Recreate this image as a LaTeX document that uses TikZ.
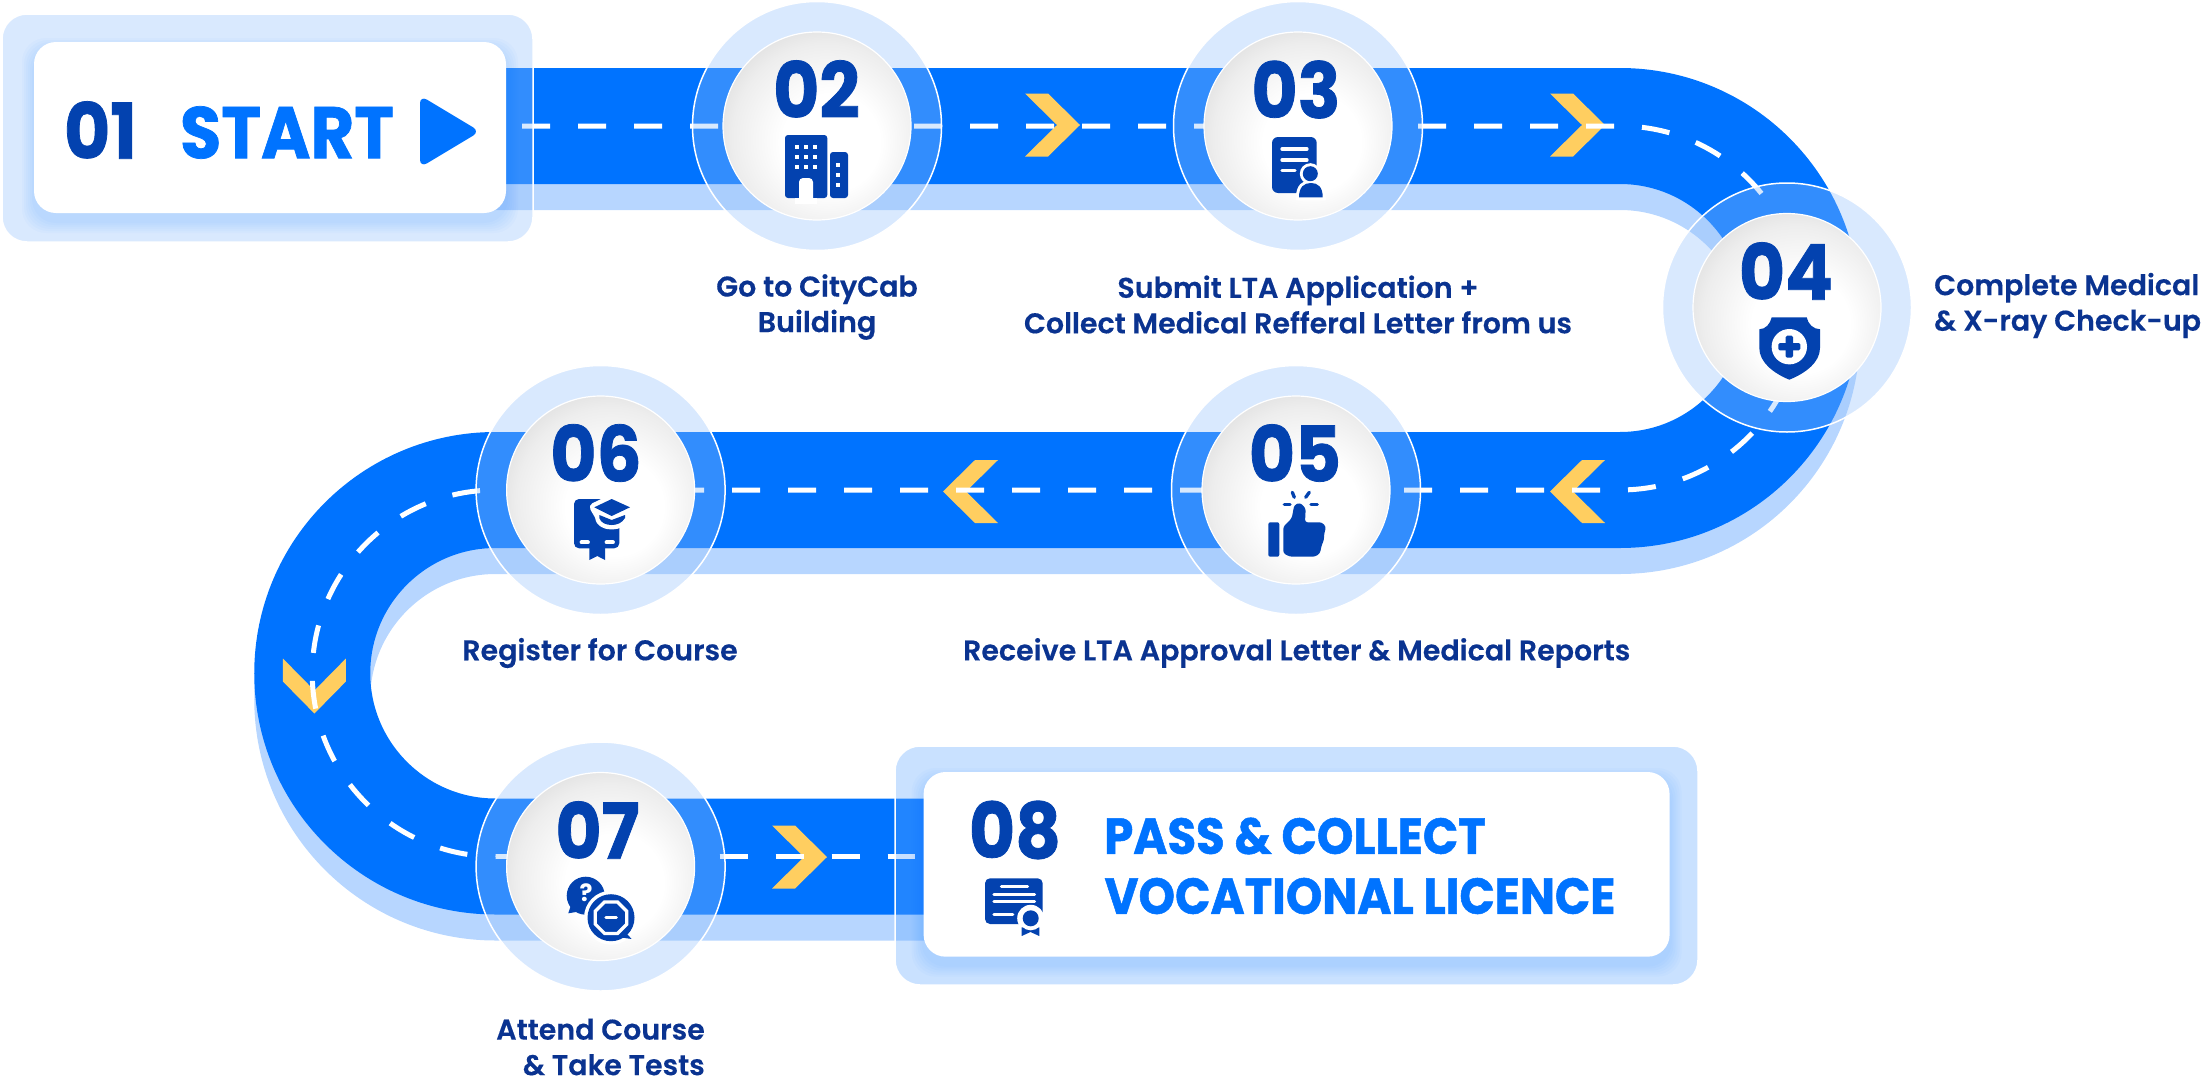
\documentclass[tikz,border=0pt]{standalone}
\usepackage{fontspec}
\setmainfont{Poppins}
\newfontfamily\fontLabel[FakeBold=0.3]{Poppins SemiBold}
\newfontfamily\fontNumber[FakeStretch=0.92, FakeBold=1]{Poppins Bold}
\usetikzlibrary{positioning, shapes.geometric}
\definecolor{colorRoad}{HTML}{0073FF}
\definecolor{colorRoadShadow}{HTML}{B7D6FF}
\definecolor{colorRing}{HTML}{92C0FC}
\definecolor{colorEndRing}{HTML}{62A8FF}
\definecolor{colorNumber}{HTML}{0342AF}
\definecolor{colorLabel}{HTML}{0A3390}
\definecolor{colorChevron}{HTML}{FFCE60}
\pgfdeclareradialshading{ballshade}{\pgfpoint{5bp}{-6bp}}{color(0bp)=(white); color(13bp)=(white); color(25bp)=(black!7); color(33bp)=(black!15); color(50bp)=(black!15)}
\tikzset{
  roadline/.style={line width=116pt},
  dashline/.style={white, line width=5pt, dash pattern=on 28pt off 28pt},
  ring/.style={circle, minimum size=249pt, inner sep=0pt, draw=white, line width=1.5pt, fill=colorRing, fill opacity=.35},
  ball/.style={circle, minimum size=188pt, inner sep=0pt, shade, shading=ballshade, draw=white, line width=1.2pt},
  whitebox/.style={rectangle, rounded corners=22pt, fill=white, inner sep=0pt},
  number/.style={inner sep=0pt, text=colorNumber, font=\fontNumber\fontsize{77}{77}\selectfont},
  steplabel/.style={inner sep=0pt, text=colorLabel, font=\fontLabel\fontsize{28.5}{35.5}\selectfont},
  boxtext/.style={inner sep=0pt, text=colorRoad, font=\fontNumber\fontsize{50.5}{50.5}\selectfont},
  icon/.style={fill=colorNumber},
  iconline/.style={draw=white, line width=3.3pt, line cap=round},
  sparkline/.style={draw=colorNumber, line width=3.3pt, line cap=round},
  chevron/.style={fill=colorChevron},
}
\begin{document}
\begin{tikzpicture}[x=1pt, y=-1pt]
\useasboundingbox (0,0) rectangle (2201,1076);
% road
\coordinate (roadStart) at (400,126);
\coordinate (roadTurnA) at (1620,126);
\coordinate (roadTurnB) at (495.5,490);
\coordinate (roadEnd) at (1000,856.5);
\draw[roadline, colorRoadShadow] ([yshift=-26pt]roadStart) -- ([yshift=-26pt]roadTurnA) arc[start angle=90, end angle=-90, radius=182pt] -- ([yshift=-26pt]roadTurnB) arc[start angle=90, end angle=270, radius=183.25pt] -- ([yshift=-26pt]roadEnd);
\draw[roadline, colorRoad] (roadStart) -- (roadTurnA) arc[start angle=90, end angle=-90, radius=182pt] -- (roadTurnB) arc[start angle=90, end angle=270, radius=183.25pt] -- (roadEnd);
% chevrons
\foreach \tipx/\tipy/\tipa in {1080/125/0, 1605/125/0, 1550/491.5/180, 943/491.5/180, 314.4/713.5/-90, 827/857/0}
  \fill[chevron, shift={(\tipx,\tipy)}, rotate=\tipa] (-55,-31.5) -- (-32,-31.5) -- (0,0) -- (-32,31.5) -- (-55,31.5) -- (-23,0) -- cycle;
% dashes
\coordinate (dashA) at (522,126);
\coordinate (dashB) at (1600,490);
\coordinate (dashC) at (495.5,856.5);
\coordinate (dashD) at (915,856.5);
\coordinate (dashE) at (1628,489.8);
\draw[dashline] (dashA) -- (roadTurnA) arc[start angle=90, end angle=0, radius=182pt];
\draw[dashline] (dashE) arc[start angle=-87.5, end angle=0, radius=182pt];
\draw[dashline] (dashB) -- (roadTurnB) arc[start angle=90, end angle=270, radius=183.25pt];
\draw[dashline] (dashC) -- (dashD);
% rings
\node[ring] (ring02) at (817,126) {};
\node[ring] (ring03) at (1298,126) {};
\node[ring] (ring04) at (1787,307.5) {};
\node[ring] (ring05) at (1296,490) {};
\node[ring] (ring06) at (600.6,490) {};
\node[ring] (ring07) at (600.6,866.5) {};
\foreach \n in {02,03,04,05,06,07}
  \node[ball] (ball\n) at (ring\n) {};
% start box
\node[rectangle, rounded corners=25pt, minimum width=531pt, minimum height=228pt, inner sep=0pt, draw=white, line width=1.5pt, fill=colorRing, fill opacity=.35] (ring01) at (267.5,128) {};
\coordinate (cornerA) at (34,42);
\coordinate (cornerB) at (506,213);
\foreach \s in {12,10,...,2}
  \fill[colorRoad, opacity=.025, rounded corners=24pt] ([shift={({-\s},{8-\s})}]cornerA) rectangle ([shift={(\s,{8+\s})}]cornerB);
\node[whitebox, minimum width=472pt, minimum height=171pt] (box01) at (270,127.5) {};
% end box
\node[rectangle, rounded corners=25pt, minimum width=803pt, minimum height=239pt, inner sep=0pt, draw=white, line width=1.5pt, fill=colorEndRing, fill opacity=.345] (ring08) at (1296.5,865.5) {};
\coordinate (cornerC) at (923.6,772);
\coordinate (cornerD) at (1669.6,956.7);
\foreach \s in {12,10,...,2}
  \fill[colorRoad, opacity=.025, rounded corners=24pt] ([shift={({-\s},{8-\s})}]cornerC) rectangle ([shift={(\s,{8+\s})}]cornerD);
\node[whitebox, minimum width=746pt, minimum height=184.7pt] (box08) at (1296.6,864.35) {};
% numbers
\node[number] (num01) at (100.5,130) {01};
\node[number] (num02) at (816.5,89) {02};
\node[number] (num03) at (1296,89.5) {03};
\node[number] (num04) at (1786,271) {04};
\node[number] (num05) at (1295,453) {05};
\node[number] (num06) at (596,453) {06};
\node[number] (num07) at (597.5,830) {07};
\node[number] (num08) at (1015,830) {08};
% box texts
\node[boxtext, font=\fontNumber\fontsize{73}{73}\selectfont] (startText) at (287,132.5) {START};
\fill[icon, colorRoad, rounded corners=8pt] (420,95.5) -- (480,131.5) -- (420,167.5) -- cycle;
\node[boxtext] (passText) at (1295,836) {PASS \& COLLECT};
\node[boxtext] (licenceText) at (1360,896) {VOCATIONAL LICENCE};
% labels
\node[steplabel, align=center] (label02) at (817,307) {Go to CityCab\\Building};
\node[steplabel, align=center] (label03) at (1298,304.5) {Submit LTA Application +\\Collect Medical Refferal Letter from us};
\node[steplabel, align=left] (label04) [anchor=west] at (1934,305.5) {Complete Medical\\\& X-ray Check-up};
\node[steplabel] (label05) at (1296.7,653) {Receive LTA Approval Letter \& Medical Reports};
\node[steplabel] (label06) at (600,653) {Register for Course};
\node[steplabel, align=right] (label07) [anchor=east] at (705,1047) {Attend Course\\\& Take Tests};
% icon 02
\fill[icon, rounded corners=3pt] (785,135) rectangle (827.3,198);
\fill[icon, rounded corners=3pt] (830,152) rectangle (848,198);
\fill[white, rounded corners=4pt] (799,204) -- (799,178) -- (813,178) -- (813,204) -- cycle;
\fill[white] (795,198) rectangle (817,204);
\foreach \wx in {797.3,806,815}
  \foreach \wy in {146.7,156.7,167}
    \fill[white] (\wx-2.1,\wy-2.1) rectangle (\wx+2.1,\wy+2.1);
\foreach \wy in {165,175.3,185.3}
  \fill[white] (835.9,\wy-2.1) rectangle (840.1,\wy+2.1);
% icon 03
\fill[icon, rounded corners=6pt] (1272,137) rectangle (1316.7,193);
\draw[iconline] (1282,149) -- (1307,149);
\draw[iconline] (1282,160) -- (1307,160);
\draw[iconline] (1282,170.3) -- (1295,170.3);
\fill[white] (1310.3,173.7) circle (10.5pt);
\fill[white, draw=white, line width=6pt] (1299,197.3) .. controls (1299,187) and (1304,183) .. (1311,183) .. controls (1318,183) and (1322.7,187) .. (1322.7,197.3) -- cycle;
\fill[icon] (1310.3,173.7) circle (7.5pt);
\fill[icon] (1299,197.3) .. controls (1299,187) and (1304,183) .. (1311,183) .. controls (1318,183) and (1322.7,187) .. (1322.7,197.3) -- cycle;
% icon 04
\fill[icon] (1771.7,317.3) -- (1806.7,317.3) .. controls (1808,324) and (1813,329) .. (1820,329.3) -- (1820,348) .. controls (1820,362) and (1806,373) .. (1789.3,379.7) .. controls (1773,373) and (1759.3,362) .. (1759.3,348) -- (1759.3,329.3) .. controls (1766,329) and (1770,324) .. (1771.7,317.3) -- cycle;
\fill[white] (1789.3,346.7) circle (17.7pt);
\fill[icon, rounded corners=1.5pt] (1785.6,335.7) rectangle (1793,357.7);
\fill[icon, rounded corners=1.5pt] (1778.3,343) rectangle (1800.3,350.4);
% icon 05
\fill[icon, rounded corners=2pt] (1268.3,522.3) rectangle (1279.3,556.7);
\fill[icon, rounded corners=2.5pt] (1283.3,526.7) -- (1291.7,518.3) -- (1294.3,505) -- (1300,502.7) -- (1305.7,508.3) -- (1305,522.3) -- (1321.7,522.3) -- (1326,526.7) -- (1324,535) -- (1324,540) -- (1321.7,545) -- (1320,553.3) -- (1315,556.7) -- (1290,556.7) -- (1283.3,553.3) -- cycle;
\draw[sparkline] (1292.3,492.3) -- (1294.3,497.3);
\draw[sparkline] (1309.3,492.3) -- (1305.7,497.3);
\draw[sparkline] (1284.3,504.3) -- (1290,504.3);
\draw[sparkline] (1311,504.3) -- (1317.3,504.3);
% icon 06
\fill[icon, rounded corners=5pt] (574,499) rectangle (619.3,548.3);
\fill[icon] (589.3,546) -- (605,546) -- (605,560) -- (597.3,556) -- (589.3,560) -- cycle;
\draw[white, line width=3.8pt, line cap=round] (581.5,542.3) -- (588,542.3);
\draw[white, line width=3.8pt, line cap=round] (606.5,542.3) -- (613,542.3);
\fill[white, draw=white, line width=9pt, line join=round] (594.3,507.3) -- (611.7,499) -- (630,507.3) -- (625,516) .. controls (625,522) and (618,525) .. (611.7,525) .. controls (605,525) and (599.3,522) .. (599.3,516) -- cycle;
\fill[icon] (594.3,507.3) -- (611.7,499) -- (630,507.3) -- (611.7,516) -- cycle;
\fill[icon] (599.3,515) -- (611.7,520) -- (625,515) -- (625,518) .. controls (622,523) and (617,525) .. (611.7,525) .. controls (606,525) and (601,523) .. (599.3,518) -- cycle;
% icon 07
\fill[icon] (585.7,895.7) circle (19pt);
\fill[icon] (572,902) -- (568.3,913.3) -- (582,911) -- cycle;
\node[inner sep=0pt, text=white, font=\bfseries\fontsize{24}{24}\selectfont] (questionMark) at (586,893) {?};
\fill[white] (611,917.7) circle (27pt);
\fill[icon] (611,917.7) circle (23.5pt);
\fill[icon] (623,930) -- (631.7,939) -- (618,937) -- cycle;
\node[regular polygon, regular polygon sides=8, draw=white, line width=3.3pt, minimum size=34pt, inner sep=0pt] (stopSign) at (611,917.7) {};
\draw[iconline] (606,917.7) -- (616.3,917.7);
% icon 08
\fill[icon, rounded corners=5pt] (985,878.3) rectangle (1042.7,924);
\draw[iconline] (1001.5,886.7) -- (1027.5,886.7);
\draw[iconline] (994,894.3) -- (1034.5,894.3);
\draw[iconline] (994,901.7) -- (1034.5,901.7);
\draw[iconline] (994,914.3) -- (1012.7,914.3);
\fill[white] (1030.7,918.3) circle (13.5pt);
\fill[white] (1019,925) rectangle (1042,938);
\fill[icon] (1021.7,927.3) -- (1039.3,927.3) -- (1039.3,936) -- (1030.5,932) -- (1021.7,936) -- cycle;
\fill[white] (1030.7,918.3) circle (12pt);
\fill[icon] (1030.7,918.3) circle (8pt);
\end{tikzpicture}
\end{document}
